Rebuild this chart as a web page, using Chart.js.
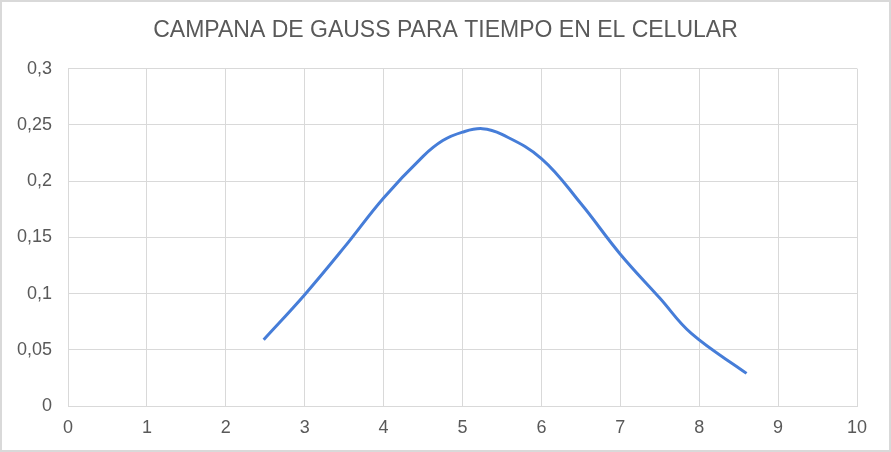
<!DOCTYPE html>
<html>
<head>
<meta charset="utf-8">
<script src="https://cdn.jsdelivr.net/npm/chart.js@4/dist/chart.umd.min.js"></script>
<style>
  html, body { margin: 0; padding: 0; background: #fff; }
</style>
</head>
<body>
<canvas id="gaussChart" width="891" height="452"></canvas>
<script>
// values
const chartTitle = 'CAMPANA DE GAUSS PARA TIEMPO EN EL CELULAR';
const horas = [2.48, 3, 3.5, 4, 4.5, 4.75, 5, 5.25, 5.5, 6, 6.5, 7, 7.5, 7.9, 8.6];
const densidad = [0.059, 0.099, 0.141, 0.185, 0.222, 0.236, 0.2435, 0.2466, 0.2415, 0.220, 0.180, 0.135, 0.096, 0.0645, 0.029];
const xRange = [0, 10];
const yRange = [0, 0.3];

const points = horas.map((h, i) => ({ x: h, y: densidad[i] }));

// white background + light frame like the original image
const frame = {
    id: 'frame',
    afterLayout(chart) {
        // center the title on the whole picture, not on the padded box
        chart.titleBlock.left = 0;
        chart.titleBlock.right = chart.width;
    },
    beforeDraw(chart) {
        const c = chart.ctx;
        c.save();
        c.fillStyle = '#fff';
        c.fillRect(0, 0, chart.width, chart.height);
        c.strokeStyle = '#d9d9d9';
        c.lineWidth = 2;
        c.strokeRect(1, 1, chart.width - 2, chart.height - 2);
        c.restore();
    }
};

const ctx = document.getElementById('gaussChart').getContext('2d');
new Chart(ctx, {
    type: 'scatter',
    data: {
        datasets: [{
            data: points,
            showLine: true,
            borderColor: '#467dd8',
            borderWidth: 3,
            pointRadius: 0,
            tension: 0.4,
            fill: false
        }]
    },
    options: {
        responsive: false,
        animation: false,
        layout: { padding: { left: 0, right: 34, top: 0, bottom: 0 } },
        plugins: {
            legend: { display: false },
            tooltip: { enabled: false },
            title: {
                display: true,
                text: chartTitle,
                color: '#595959',
                font: { family: 'Liberation Sans, Arial, sans-serif', size: 23, weight: 'normal' },
                padding: { top: 17, bottom: 24 }
            }
        },
        scales: {
            x: {
                type: 'linear',
                min: xRange[0],
                max: xRange[1],
                afterFit(scale) { scale.height = 46; },
                grid: { color: '#d9d9d9', lineWidth: 1, drawTicks: false },
                border: { color: '#d9d9d9', width: 1 },
                ticks: {
                    stepSize: 1,
                    padding: 11,
                    color: '#595959',
                    font: { family: 'Liberation Sans, Arial, sans-serif', size: 18 }
                }
            },
            y: {
                min: yRange[0],
                max: yRange[1],
                afterFit(scale) { scale.width = 68; },
                grid: { color: '#d9d9d9', lineWidth: 1, drawTicks: false },
                border: { display: false },
                ticks: {
                    stepSize: 0.05,
                    padding: 16,
                    color: '#595959',
                    font: { family: 'Liberation Sans, Arial, sans-serif', size: 18 },
                    callback: v => String(Math.round(v * 100) / 100).replace('.', ',')
                }
            }
        }
    },
    plugins: [frame]
});
</script>
</body>
</html>
